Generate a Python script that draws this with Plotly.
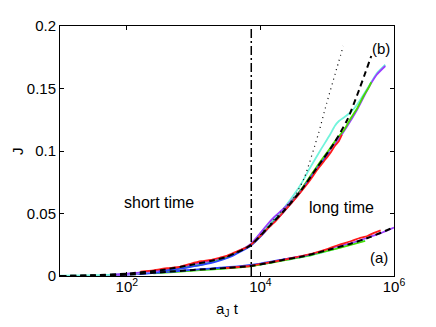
import plotly.graph_objects as go

# ---- data ----
# theory curves (black dashed)
t_b = [10, 32, 100, 320, 1000, 1800, 3200, 7100, 12600, 22400, 40000, 71000, 126000, 200000, 282000, 363000, 457000]
J_b = [0, 0.0006, 0.0019, 0.0046, 0.0093, 0.012, 0.0155, 0.0245, 0.038, 0.052, 0.068, 0.087, 0.106, 0.125, 0.145, 0.161, 0.176]

t_a = [10, 32, 100, 320, 1000, 3200, 7100, 12600, 22400, 40000, 71000, 112000, 224000, 447000, 891000, 1000000]
J_a = [0, 0.0004, 0.001, 0.003, 0.0048, 0.0065, 0.008, 0.0103, 0.013, 0.0153, 0.0185, 0.0214, 0.0258, 0.0313, 0.0378, 0.0386]

# short time approximation (dotted)
t_short = [3200, 7100, 12600, 20000, 31000, 45000, 74000, 98000, 132000, 174000]
J_short = [0.0155, 0.0248, 0.039, 0.051, 0.062, 0.078, 0.114, 0.138, 0.162, 0.184]

# crossover time (dash-dot)
t_cross = 7300

# simulations, group (b)
red_b_t = [160, 250, 400, 600, 900, 1300, 1800, 2500, 3200, 4500, 6000, 7100, 9000, 12600, 17000, 22400, 30000, 40000, 56000, 71000, 90000, 110000, 130000, 150000, 166000]
red_b_J = [0.0035, 0.0045, 0.0062, 0.0072, 0.0098, 0.0118, 0.0128, 0.0148, 0.0163, 0.0198, 0.0225, 0.0248, 0.0295, 0.0375, 0.044, 0.0515, 0.059, 0.067, 0.077, 0.085, 0.092, 0.098, 0.104, 0.108, 0.113]

blue_b_t = [300, 500, 800, 1200, 1800, 2500, 3500, 5000, 7100, 10000, 14000, 20000, 28000, 40000, 56000, 80000, 110000]
blue_b_J = [0.0035, 0.0052, 0.0068, 0.0085, 0.0104, 0.0125, 0.0152, 0.0195, 0.024, 0.0315, 0.04, 0.0485, 0.0575, 0.0675, 0.0785, 0.09, 0.099]

green_b_t = [400, 600, 900, 1300, 1800, 2500, 3500, 5000, 7100, 10000, 14000, 20000, 28000, 40000, 56000, 80000, 110000, 140000, 180000, 224000, 280000, 350000, 420000, 457000]
green_b_J = [0.0042, 0.0058, 0.0075, 0.009, 0.0108, 0.013, 0.0158, 0.0202, 0.0245, 0.032, 0.0405, 0.049, 0.058, 0.0685, 0.08, 0.092, 0.102, 0.11, 0.117, 0.126, 0.134, 0.144, 0.151, 0.155]

purple_b_t = [60, 100, 200, 400, 800, 1500, 3000, 5000, 7100, 9000, 12600, 16000, 22400, 30000, 40000, 56000, 80000, 110000, 150000, 200000, 280000, 400000, 550000, 741000]
purple_b_J = [0.001, 0.0018, 0.0033, 0.005, 0.0082, 0.0115, 0.015, 0.0205, 0.0255, 0.0315, 0.041, 0.047, 0.054, 0.061, 0.0685, 0.079, 0.091, 0.101, 0.11, 0.12, 0.133, 0.149, 0.161, 0.168]

cyan_b_t = [10, 15, 23, 35, 60, 100, 200, 400, 800, 1500, 3000, 5000, 7100, 10000, 14000, 20000, 28000, 40000, 56000, 80000, 110000, 130000, 150000, 180000, 224000, 280000, 400000, 550000, 741000]
cyan_b_J = [0.0002, 0.0003, 0.0003, 0.0005, 0.001, 0.0017, 0.003, 0.0052, 0.0082, 0.0112, 0.015, 0.0205, 0.025, 0.033, 0.042, 0.051, 0.061, 0.073, 0.087, 0.101, 0.113, 0.12, 0.124, 0.127, 0.131, 0.137, 0.15, 0.162, 0.169]

# simulations, group (a)
red_a_t = [3000, 7000, 15000, 30000, 60000, 100000, 150000, 224000, 300000, 400000, 500000, 631000]
red_a_J = [0.0064, 0.008, 0.0112, 0.0144, 0.018, 0.0215, 0.025, 0.0278, 0.0302, 0.032, 0.0345, 0.0365]

blue_a_t = [150, 300, 600, 1200, 2500, 5000, 10000, 20000, 40000, 70000]
blue_a_J = [0.0016, 0.0028, 0.004, 0.0053, 0.0066, 0.0079, 0.0099, 0.0128, 0.0155, 0.0186]

green_a_t = [250, 500, 1000, 2000, 4000, 8000, 15000, 30000, 60000, 120000, 224000, 370000]
green_a_J = [0.0022, 0.0032, 0.0043, 0.0054, 0.0066, 0.0082, 0.0108, 0.0138, 0.017, 0.021, 0.0248, 0.028]

purple_a_t = [40, 100, 300, 1000, 3000, 10000, 30000, 60000, 100000, 150000, 224000, 400000, 631000, 1000000]
purple_a_J = [0.0005, 0.001, 0.0029, 0.0049, 0.0065, 0.0095, 0.0145, 0.0178, 0.0212, 0.024, 0.0262, 0.0306, 0.0343, 0.0388]

cyan_a_t = [10, 20, 40, 100, 300, 1000, 3000, 10000, 30000, 60000, 100000, 200000, 370000]
cyan_a_J = [0.0001, 0.0002, 0.0004, 0.0009, 0.0027, 0.0046, 0.0062, 0.0091, 0.0138, 0.0168, 0.0198, 0.0245, 0.0285]

y_ticks = [0, 0.05, 0.1, 0.15, 0.2]
y_labels = ["0", "0.05", "0.1", "0.15", "0.2"]
x_ticks = [1e2, 1e4, 1e6]
x_labels = ["10<sup>2</sup>", "10<sup>4</sup>", "10<sup>6</sup>"]

RED = "#ff1a1a"
BLUE = "#2a45ff"
GREEN = "#48dd00"
PURPLE = "#9b3dff"
CYAN = "#72f4dc"
FONT = "Liberation Sans, Arial, sans-serif"

fig = go.Figure()

sims = [
    (cyan_a_t, cyan_a_J, CYAN), (purple_a_t, purple_a_J, PURPLE),
    (green_a_t, green_a_J, GREEN), (blue_a_t, blue_a_J, BLUE),
    (red_a_t, red_a_J, RED),
    (cyan_b_t, cyan_b_J, CYAN), (purple_b_t, purple_b_J, PURPLE),
    (green_b_t, green_b_J, GREEN), (blue_b_t, blue_b_J, BLUE),
    (red_b_t, red_b_J, RED),
]
for t, J, c in sims:
    fig.add_trace(go.Scatter(x=t, y=J, mode="lines",
                             line=dict(color=c, width=1.8, shape="spline", smoothing=0.5)))

# theory lines on top
for t, J in [(t_a, J_a), (t_b, J_b)]:
    fig.add_trace(go.Scatter(x=t, y=J, mode="lines",
                             line=dict(color="black", width=2, dash="6px,4px", shape="spline", smoothing=0.6)))

fig.add_trace(go.Scatter(x=t_short, y=J_short, mode="lines",
                         line=dict(color="black", width=1.2, dash="1px,4px", shape="spline", smoothing=0.6)))

fig.add_trace(go.Scatter(x=[t_cross, t_cross], y=[y_ticks[0], y_ticks[-1]], mode="lines",
                         line=dict(color="black", width=1.5, dash="9px,3px,2px,3px")))

annots = [
    ("short time", 0.295, 0.293, 16),
    ("long time", 0.844, 0.276, 16),
    ("(a)", 0.955, 0.073, 15),
    ("(b)", 0.96, 0.909, 15),
]
for txt, xp, yp, fs in annots:
    fig.add_annotation(text=txt, x=xp, y=yp, xref="paper", yref="paper",
                       xanchor="center", yanchor="middle",
                       showarrow=False, font=dict(size=fs, color="black", family=FONT))

# axis titles as annotations so they sit where the reference has them
fig.add_annotation(text="a<sub>J</sub> t", x=0.5, y=0, xref="paper", yref="paper",
                   xanchor="center", yanchor="top", yshift=-22, showarrow=False,
                   font=dict(size=15, color="black", family=FONT))
fig.add_annotation(text="J", x=0, y=0.5, xref="paper", yref="paper",
                   xanchor="center", yanchor="middle", xshift=-43, textangle=-90,
                   showarrow=False, font=dict(size=15, color="black", family=FONT))

# page body has an 8px margin, so the figure is a bit smaller than the window
fig.update_layout(
    width=428, height=319,
    margin=dict(l=52, r=42, t=18, b=51),
    plot_bgcolor="white", paper_bgcolor="white",
    showlegend=False,
    font=dict(family=FONT, size=15, color="black"),
)
fig.update_xaxes(
    type="log", range=[1, 6], automargin=False,
    tickvals=x_ticks, ticktext=x_labels, ticklabelstandoff=-3,
    ticks="inside", ticklen=4, tickcolor="black",
    showline=True, linecolor="black", linewidth=1, mirror="ticks",
    showgrid=False, zeroline=False,
)
fig.update_yaxes(
    range=[0, 0.2], automargin=False,
    tickvals=y_ticks, ticktext=y_labels,
    ticks="inside", ticklen=4, tickcolor="black",
    showline=True, linecolor="black", linewidth=1, mirror="ticks",
    showgrid=False, zeroline=False,
)

fig.write_html("out.html")
